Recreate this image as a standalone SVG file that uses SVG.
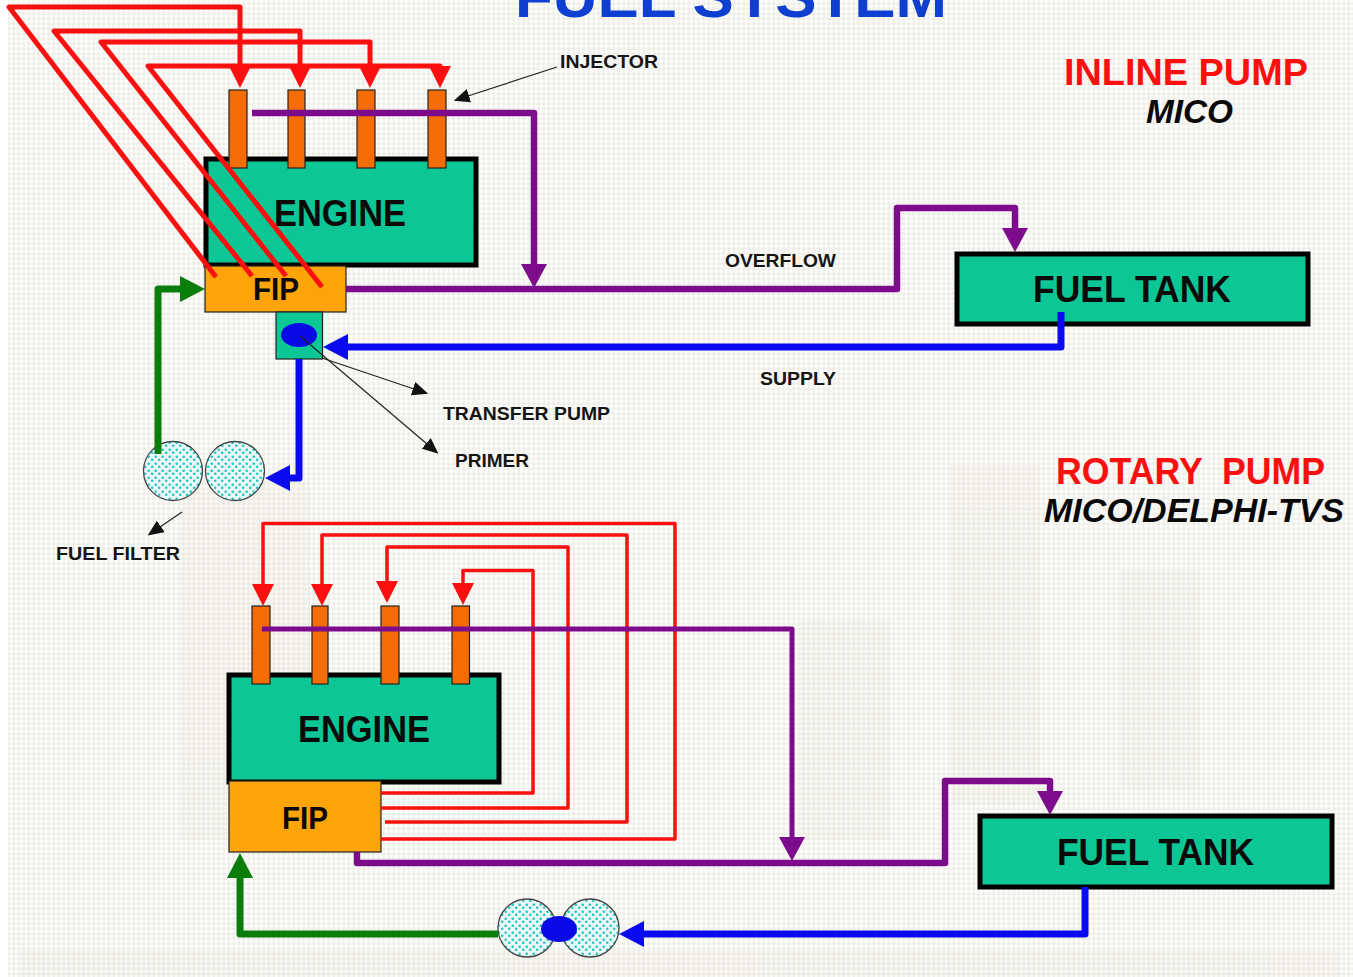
<svg xmlns="http://www.w3.org/2000/svg" width="1353" height="977" viewBox="0 0 1353 977">
<style>
.box{fill:#0cc795;stroke:#000;stroke-width:5}
.inj{fill:#f46c06;stroke:#222;stroke-width:1.2}
.fip{fill:#fda408;stroke:#222;stroke-width:1.2}
.flt{fill:url(#dots);stroke:#444;stroke-width:1.3}
.prim{fill:#0a0ae6}
text{font-family:"Liberation Sans",Arial,sans-serif;font-weight:700}
.big{font-size:36px;fill:#0a0a0a}
.small{font-size:18px;fill:#151515}
.head{font-size:36px;fill:#fb0f0f}
.sub{font-size:33px;font-style:italic;fill:#080808}
.ln{fill:none;stroke-linejoin:round}
.r{stroke:#fb0f0f}.p{stroke:#7c0c8c;stroke-width:6.500}.b{stroke:#0a0af0;stroke-width:7}.g{stroke:#0a7d0a;stroke-width:7}
.t{stroke:#222;stroke-width:1.2;fill:none}
</style>
<defs>
<pattern id="tex" width="5" height="5" patternUnits="userSpaceOnUse">
<rect width="5" height="5" fill="#f6f5f0"/>
<path d="M0 1H5M1 0V5" stroke="#fff" stroke-width="1.2"/>
<path d="M0 4H5M4 0V5" stroke="#e6e5df" stroke-width=".6"/>
</pattern>
<pattern id="dots" width="7" height="7" patternUnits="userSpaceOnUse">
<rect width="7" height="7" fill="#eaf8f6"/>
<circle cx="1.700" cy="1.700" r="1.300" fill="#22c4c4"/>
<circle cx="5.200" cy="4.800" r="1.300" fill="#22c4c4"/>
</pattern>
<marker id="aR" viewBox="0 0 22 22" refX="0" refY="11" markerWidth="22" markerHeight="22" markerUnits="userSpaceOnUse" orient="auto"><path d="M0 0L22 11L0 22z" fill="#fb0f0f"/></marker>
<marker id="aP" viewBox="0 0 24 26" refX="0" refY="13" markerWidth="24" markerHeight="26" markerUnits="userSpaceOnUse" orient="auto"><path d="M0 0L24 13L0 26z" fill="#7c0c8c"/></marker>
<marker id="aB" viewBox="0 0 25 26" refX="0" refY="13" markerWidth="25" markerHeight="26" markerUnits="userSpaceOnUse" orient="auto"><path d="M0 0L25 13L0 26z" fill="#0a0af0"/></marker>
<marker id="aG" viewBox="0 0 25 26" refX="0" refY="13" markerWidth="25" markerHeight="26" markerUnits="userSpaceOnUse" orient="auto"><path d="M0 0L25 13L0 26z" fill="#0a7d0a"/></marker>
<marker id="aT" viewBox="0 0 16 14" refX="1" refY="7" markerWidth="16" markerHeight="14" markerUnits="userSpaceOnUse" orient="auto"><path d="M0 0L16 7L0 14z" fill="#111"/></marker>
</defs>
<rect width="1353" height="977" fill="#fff"/>
<rect x="8" y="0" width="1345" height="977" fill="url(#tex)"/>
<g fill="#e0dcc8" opacity=".14">
<rect x="180" y="480" width="130" height="360"/><rect x="800" y="620" width="90" height="220"/><rect x="950" y="465" width="90" height="340"/><rect x="1120" y="570" width="80" height="220"/><rect x="20" y="950" width="1320" height="27"/>
</g>
<text x="731" y="17" text-anchor="middle" textLength="432" lengthAdjust="spacingAndGlyphs" style="font-size:58px;fill:#0f3fd0">FUEL SYSTEM</text>
<text class="head" x="1064" y="85" textLength="244" lengthAdjust="spacingAndGlyphs">INLINE PUMP</text>
<text class="sub" x="1146" y="123" textLength="87" lengthAdjust="spacingAndGlyphs">MICO</text>
<text class="head" x="1056" y="484" textLength="269" lengthAdjust="spacingAndGlyphs" xml:space="preserve">ROTARY  PUMP</text>
<text class="sub" x="1044" y="522" textLength="300" lengthAdjust="spacingAndGlyphs">MICO/DELPHI-TVS</text>
<text class="small" x="560" y="68" textLength="98" lengthAdjust="spacingAndGlyphs">INJECTOR</text>
<text class="small" x="725" y="267" textLength="111" lengthAdjust="spacingAndGlyphs">OVERFLOW</text>
<text class="small" x="760" y="385" textLength="76" lengthAdjust="spacingAndGlyphs">SUPPLY</text>
<text class="small" x="443" y="420" textLength="167" lengthAdjust="spacingAndGlyphs">TRANSFER PUMP</text>
<text class="small" x="455" y="467" textLength="74" lengthAdjust="spacingAndGlyphs">PRIMER</text>
<text class="small" x="56" y="560" textLength="124" lengthAdjust="spacingAndGlyphs">FUEL FILTER</text>

<g id="engine-1"><rect class="box" x="206" y="159" width="270" height="106"/><text class="big" x="274" y="226" textLength="132" lengthAdjust="spacingAndGlyphs">ENGINE</text></g>
<g id="injector-1a"><rect class="inj" x="229" y="90" width="18" height="78"/></g>
<g id="injector-1b"><rect class="inj" x="288" y="90" width="17" height="78"/></g>
<g id="injector-1c"><rect class="inj" x="357" y="90" width="18" height="78"/></g>
<g id="injector-1d"><rect class="inj" x="428" y="90" width="18" height="78"/></g>
<g id="fip-1"><rect class="fip" x="205" y="266" width="141" height="46"/><text x="253" y="300" textLength="46" lengthAdjust="spacingAndGlyphs" style="font-size:31px;fill:#0a0a0a">FIP</text></g>
<g id="pump-1"><rect x="276" y="312" width="46.500" height="47" fill="#0cc795" stroke="#222" stroke-width="1.200"/><ellipse class="prim" cx="299" cy="335" rx="18" ry="12"/></g>
<g id="filter-1a"><circle class="flt" cx="173" cy="471" r="29.500"/></g>
<g id="filter-1b"><circle class="flt" cx="235" cy="471" r="29.500"/></g>
<g id="tank-1"><rect class="box" x="957" y="254" width="351" height="70"/><text class="big" x="1033" y="302" textLength="198" lengthAdjust="spacingAndGlyphs">FUEL TANK</text></g>

<g id="engine-2"><rect class="box" x="229" y="675" width="270" height="107"/><text class="big" x="298" y="742" textLength="132" lengthAdjust="spacingAndGlyphs">ENGINE</text></g>
<g id="injector-2a"><rect class="inj" x="252" y="606" width="18" height="78"/></g>
<g id="injector-2b"><rect class="inj" x="312" y="606" width="16" height="78"/></g>
<g id="injector-2c"><rect class="inj" x="381" y="606" width="18" height="78"/></g>
<g id="injector-2d"><rect class="inj" x="452" y="606" width="17.500" height="78"/></g>
<g id="fip-2"><rect class="fip" x="229" y="781" width="152" height="71"/><text x="282" y="829" textLength="46" lengthAdjust="spacingAndGlyphs" style="font-size:31px;fill:#0a0a0a">FIP</text></g>
<g id="tank-2"><rect class="box" x="980" y="816" width="352" height="71"/><text class="big" x="1057" y="865" textLength="197" lengthAdjust="spacingAndGlyphs">FUEL TANK</text></g>
<g id="filter-2"><circle class="flt" cx="527" cy="928" r="29"/><circle class="flt" cx="590" cy="928" r="29"/><ellipse class="prim" cx="559" cy="929" rx="18" ry="13"/></g>

<g id="connectors">
<g class="ln r" stroke-width="5">
<path d="M216 277L9 7H240V66" marker-end="url(#aR)"/>
<path d="M252 276L54 31H300V66" marker-end="url(#aR)"/>
<path d="M286 276L101 42H370V66" marker-end="url(#aR)"/>
<path d="M322 287L148 66H440V66.100" marker-end="url(#aR)"/>
</g>
<g class="ln r" stroke-width="3.500">
<path d="M381 839H675V523.500H263V584" marker-end="url(#aR)"/>
<path d="M385 822H627V535H322V584" marker-end="url(#aR)"/>
<path d="M381 808H568V547H387V581" marker-end="url(#aR)"/>
<path d="M381 793H533V570.500H463V583" marker-end="url(#aR)"/>
</g>
<path class="ln p" d="M252 113H534V264" marker-end="url(#aP)"/>
<path class="ln p" d="M346 289H897V208H1015V228" marker-end="url(#aP)"/>
<path class="ln p" d="M262 629H792V837" style="stroke-width:5" marker-end="url(#aP)"/>
<path class="ln p" d="M357 852V863H945V781H1050V791" marker-end="url(#aP)"/>
<path class="ln b" d="M1061 312V347H348" marker-end="url(#aB)"/>
<path class="ln b" d="M299 359V478H290" marker-end="url(#aB)"/>
<path class="ln b" d="M1085 887V934H644" marker-end="url(#aB)"/>
<path class="ln g" d="M158 454V289H180" marker-end="url(#aG)"/>
<path class="ln g" d="M498 934H240V878" marker-end="url(#aG)"/>
<path class="t" d="M557 67L468 96" marker-end="url(#aT)"/>
<path class="t" d="M322 358L414 389" marker-end="url(#aT)"/>
<path class="t" d="M300 336L427 444" marker-end="url(#aT)"/>
<path class="t" d="M182 512L160 527" marker-end="url(#aT)"/>
</g>
</svg>
